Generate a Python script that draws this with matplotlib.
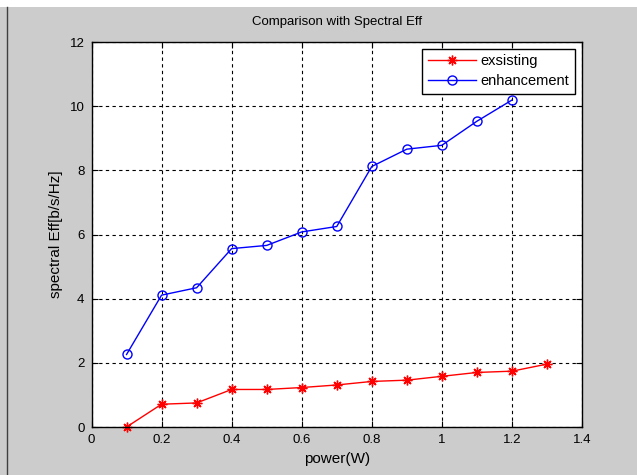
import matplotlib
matplotlib.use('Agg')
import matplotlib.pyplot as plt
from matplotlib.patches import Rectangle
from matplotlib.lines import Line2D

# power values (W)
power_existing = [0.1, 0.2, 0.3, 0.4, 0.5, 0.6, 0.7, 0.8, 0.9, 1.0, 1.1, 1.2, 1.3]
existing = [0.0, 0.71, 0.75, 1.17, 1.17, 1.23, 1.31, 1.42, 1.46, 1.58, 1.70, 1.74, 1.96]

power_enh = [0.1, 0.2, 0.3, 0.4, 0.5, 0.6, 0.7, 0.8, 0.9, 1.0, 1.1, 1.2]
enhancement = [2.26, 4.11, 4.34, 5.56, 5.66, 6.08, 6.25, 8.12, 8.66, 8.78, 9.53, 10.19]

xticks = [0, 0.2, 0.4, 0.6, 0.8, 1.0, 1.2, 1.4]
xticklabels = ['0', '0.2', '0.4', '0.6', '0.8', '1', '1.2', '1.4']
yticks = [0, 2, 4, 6, 8, 10, 12]

plt.rcParams['font.family'] = ['Liberation Sans', 'DejaVu Sans']
plt.rcParams['font.size'] = 9.5

fig = plt.figure(figsize=(6.37, 4.75), dpi=100)
fig.patch.set_facecolor('#cccccc')

# white strip on top and dark frame line on the left, as in the screenshot
fig.patches.append(Rectangle((0, 1 - 7 / 475), 1, 7 / 475, transform=fig.transFigure,
                             facecolor='white', edgecolor='none', zorder=0))
fig.lines.append(Line2D([7 / 637, 7 / 637], [0, 1 - 7 / 475], transform=fig.transFigure,
                        color='#404040', linewidth=1.0))

ax = fig.add_axes([91.5 / 637, 48 / 475, 490.5 / 637, 385 / 475])
ax.set_facecolor('white')

# MATLAB-style asterisk marker (plus and cross)
ax.plot(power_existing, existing, color='red', marker=(8, 2, 0), markersize=7,
        markeredgewidth=1.0, linewidth=1.0, label='exsisting', clip_on=False)
ax.plot(power_enh, enhancement, color='blue', marker='o', markersize=6.5,
        markerfacecolor='none', markeredgewidth=1.0, linewidth=1.0,
        label='enhancement', clip_on=False)

ax.set_xlim(0, 1.4)
ax.set_ylim(0, 12)
ax.set_xticks(xticks)
ax.set_xticklabels(xticklabels)
ax.set_yticks(yticks)
ax.tick_params(direction='in', length=4, colors='black', labelsize=9.5, pad=5,
               top=True, right=True)
ax.grid(True, color='black', linestyle=(0, (3, 3)), linewidth=0.8)

ax.set_xlabel('power(W)', fontsize=11, labelpad=4)
ax.set_ylabel('spectral Eff[b/s/Hz]', fontsize=11, labelpad=5)
ax.set_title('Comparison with Spectral Eff', fontsize=9.5, pad=12)

for s in ax.spines.values():
    s.set_color('black')
    s.set_linewidth(1.0)

leg = ax.legend(loc='upper right', fancybox=False, framealpha=1, edgecolor='black',
                fontsize=10.5, handlelength=3.3, handletextpad=0.35,
                borderaxespad=0.45, borderpad=0.4, labelspacing=0.4)
leg.get_frame().set_linewidth(1.0)

fig.savefig('out.png', dpi=100, facecolor=fig.get_facecolor())
